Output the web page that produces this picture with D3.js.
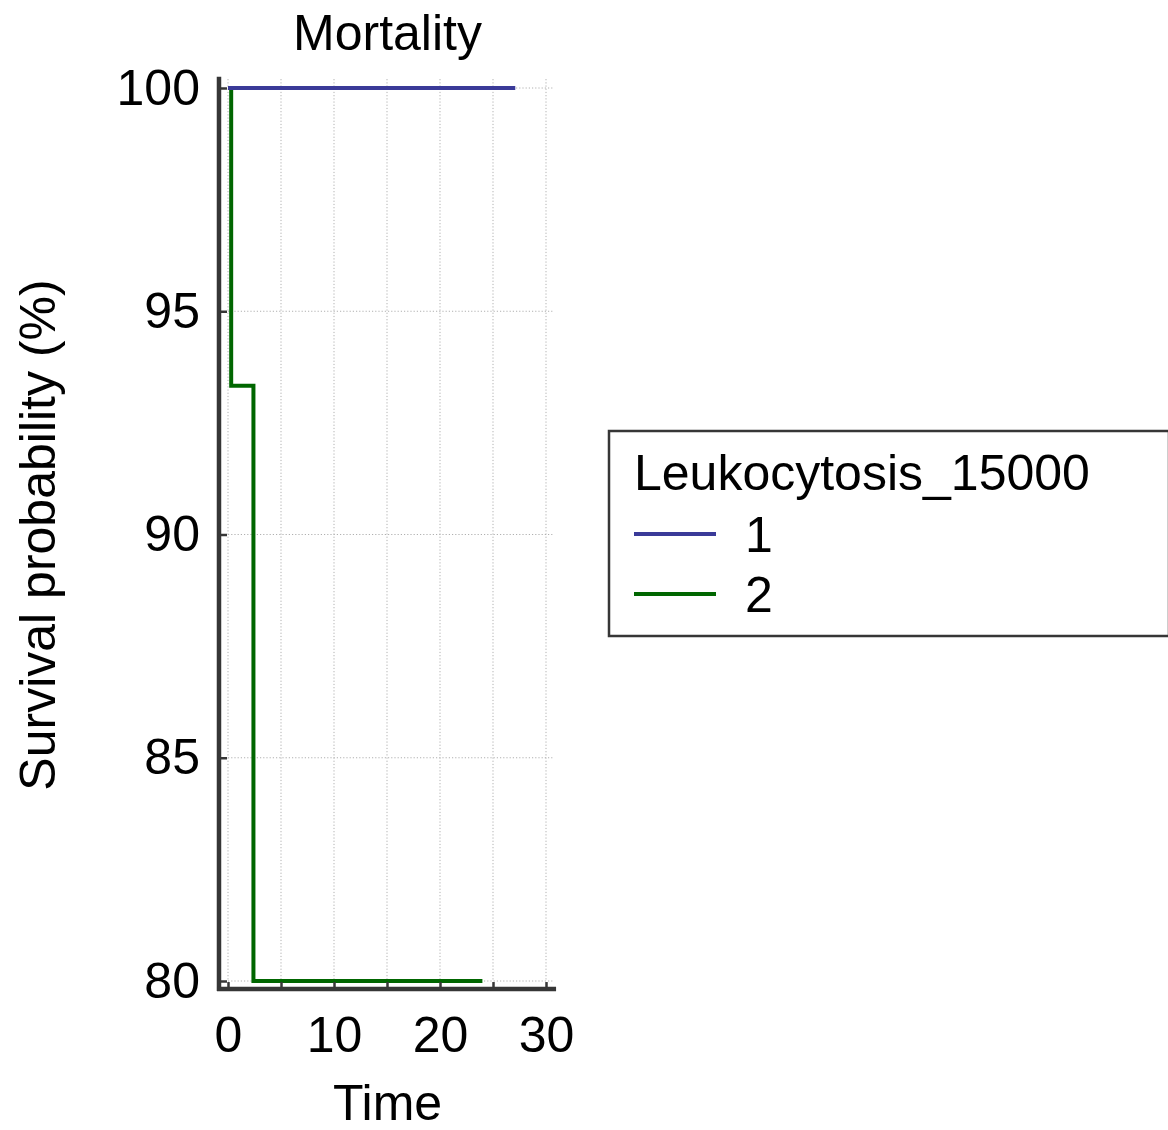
<!DOCTYPE html>
<html>
<head>
<meta charset="utf-8">
<script src="https://cdn.jsdelivr.net/npm/d3@7"></script>
<style>
  html, body { margin: 0; padding: 0; background: #fff; }
  svg { display: block; font-family: "Liberation Sans", Arial, sans-serif; }
</style>
</head>
<body>
<svg id="chart" width="1168" height="1130"></svg>
<script>
// Kaplan–Meier step data per group (time, survival %)
const groups = ["1", "2"];
const group1Time = [0, 27.1];
const group1Surv = [100, 100];
const group2Time = [0, 0.3, 2.4, 24.0];
const group2Surv = [100, 93.33, 80, 80];
const xTicks = [0, 5, 10, 15, 20, 25, 30];
const xTickLabels = ["0", "", "10", "", "20", "", "30"];
const yTicks = [80, 85, 90, 95, 100];
const yTickLabels = ["80", "85", "90", "95", "100"];
const colors = ["#3a3a98", "#006600"];

const fontSize = 50;
const svg = d3.select("#chart");
const x = d3.scaleLinear().domain([0, 30]).range([228, 546]);
const y = d3.scaleLinear().domain([80, 100]).range([981, 88]);

const axisX = x(-0.85);   // y-axis line sits left of time 0
const axisY = y(79.82);   // x-axis line sits below 80 %
const axisColor = "#363636";

// dotted grid
const grid = svg.append("g").attr("stroke", "#b0b0b0").attr("stroke-width", 1)
  .attr("stroke-dasharray", "1.2,2");
grid.selectAll("line.v").data(xTicks).join("line")
  .attr("x1", d => x(d)).attr("x2", d => x(d))
  .attr("y1", y(100.2)).attr("y2", y(80));
grid.selectAll("line.h").data(yTicks).join("line")
  .attr("x1", x(0)).attr("x2", x(30.6))
  .attr("y1", d => y(d)).attr("y2", d => y(d));

// survival curves
const series = [
  { t: group1Time, s: group1Surv },
  { t: group2Time, s: group2Surv }
];
const line = d3.line().curve(d3.curveStepAfter)
  .x(d => x(d[0])).y(d => y(d[1]));
// draw group 2 first so group 1 sits on top along 100 %
[1, 0].forEach(i => {
  const pts = series[i].t.map((t, k) => [t, series[i].s[k]]);
  svg.append("path").datum(pts)
    .attr("d", line)
    .attr("fill", "none")
    .attr("stroke", colors[i])
    .attr("stroke-width", 4);
});

// y axis
const yAxis = d3.axisLeft(y).tickValues(yTicks)
  .tickFormat((d, i) => yTickLabels[i])
  .tickSizeInner(-8).tickSizeOuter(0).tickPadding(19);
const gy = svg.append("g").attr("transform", `translate(${axisX},0)`).call(yAxis);
gy.select(".domain").remove();
gy.selectAll(".tick line").attr("stroke", axisColor).attr("stroke-width", 2.5);
gy.selectAll(".tick text").attr("font-size", fontSize).attr("fill", "#000")
  .attr("font-family", "Liberation Sans, Arial, sans-serif");
svg.append("line").attr("x1", axisX).attr("x2", axisX)
  .attr("y1", y(100.25)).attr("y2", axisY + 2)
  .attr("stroke", axisColor).attr("stroke-width", 4.5);

// x axis
const xAxis = d3.axisBottom(x).tickValues(xTicks)
  .tickFormat((d, i) => xTickLabels[i])
  .tickSizeInner(-7).tickSizeOuter(0).tickPadding(27);
const gx = svg.append("g").attr("transform", `translate(0,${axisY})`).call(xAxis);
gx.select(".domain").remove();
gx.selectAll(".tick line").attr("stroke", axisColor).attr("stroke-width", 2.5);
gx.selectAll(".tick text").attr("font-size", fontSize).attr("fill", "#000")
  .attr("font-family", "Liberation Sans, Arial, sans-serif");
svg.append("line").attr("x1", axisX - 2).attr("x2", x(30.95))
  .attr("y1", axisY).attr("y2", axisY)
  .attr("stroke", axisColor).attr("stroke-width", 4.5);

// titles
const midX = (axisX + x(30.95)) / 2;
svg.append("text").attr("x", midX).attr("y", 50).attr("text-anchor", "middle")
  .attr("font-size", fontSize).text("Mortality");
svg.append("text").attr("x", midX).attr("y", 1120).attr("text-anchor", "middle")
  .attr("font-size", fontSize).text("Time");
svg.append("text").attr("transform", "translate(55,535) rotate(-90)")
  .attr("text-anchor", "middle").attr("font-size", fontSize)
  .text("Survival probability (%)");

// legend
const leg = svg.append("g").attr("transform", "translate(609,431)");
leg.append("rect").attr("x", 0).attr("y", 0).attr("width", 560).attr("height", 205)
  .attr("fill", "#fff").attr("stroke", "#363636").attr("stroke-width", 2.5);
leg.append("text").attr("x", 25).attr("y", 59).attr("font-size", fontSize)
  .text("Leukocytosis_15000");
groups.forEach((g, i) => {
  const cy = 103 + i * 60;
  leg.append("line").attr("x1", 25).attr("x2", 107).attr("y1", cy).attr("y2", cy)
    .attr("stroke", colors[i]).attr("stroke-width", 4);
  leg.append("text").attr("x", 136).attr("y", cy + 18).attr("font-size", fontSize).text(g);
});
</script>
</body>
</html>
